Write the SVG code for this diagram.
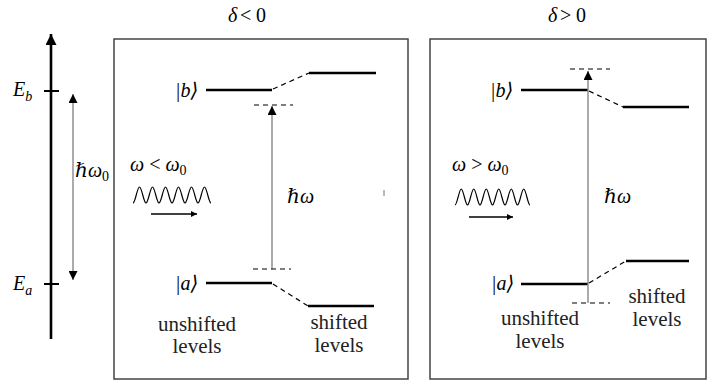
<svg xmlns="http://www.w3.org/2000/svg" width="715" height="382" viewBox="0 0 715 382">
<defs>
<style>
.box{fill:none;stroke:#444;stroke-width:1.5}
.lvl{stroke:#000;stroke-width:2.6;fill:none}
.dash{stroke:#000;stroke-width:1.2;stroke-dasharray:5,4;fill:none}
.ph{stroke:#888;stroke-width:1.4;fill:none}
.axis{stroke:#000;stroke-width:2.6;fill:none}
.tick{stroke:#000;stroke-width:2;fill:none}
.wave{stroke:#000;stroke-width:1.2;fill:none}
.sm{stroke:#000;stroke-width:1.3;fill:none}
text{font-family:"Liberation Serif","Times New Roman",Times,"Nimbus Roman","DejaVu Serif","Noto Serif",serif}
.mi{font-style:italic;font-size:20px;fill:#000}
.rm{font-size:21px;fill:#222}
.sub{font-size:14px}
.up{font-style:normal}
</style>
<marker id="ah" viewBox="0 0 10 10" refX="10" refY="5" markerWidth="9" markerHeight="9" markerUnits="userSpaceOnUse" orient="auto-start-reverse"><path d="M0,0 L10,5 L0,10 z" fill="#000"/></marker>
<marker id="ahBig" viewBox="0 0 10 10" refX="10" refY="5" markerWidth="11" markerHeight="11" markerUnits="userSpaceOnUse" orient="auto"><path d="M0,0 L10,5 L0,10 z" fill="#000"/></marker>
<marker id="ahSm" viewBox="0 0 10 10" refX="10" refY="5" markerWidth="8" markerHeight="6" markerUnits="userSpaceOnUse" orient="auto"><path d="M0,0 L10,5 L0,10 z" fill="#000"/></marker>
</defs>

<g id="energy-axis">
<line class="axis" x1="51" y1="339" x2="51" y2="34" marker-end="url(#ahBig)"/>
<line class="tick" x1="44" y1="91" x2="59" y2="91"/>
<line class="tick" x1="44" y1="284" x2="59" y2="284"/>
<text class="mi" x="13" y="96">E<tspan class="sub" dy="5">b</tspan></text>
<text class="mi" x="13" y="290">E<tspan class="sub" dy="5">a</tspan></text>
<text class="mi" x="75" y="177">ℏω<tspan class="sub up" dy="4">0</tspan></text>
</g>

<g id="panel-left">
<rect class="box" x="114" y="39" width="294" height="340"/>
<text class="mi" x="228" y="22">δ<tspan class="up" x="240">&lt;</tspan><tspan class="up" x="256">0</tspan></text>
<text class="mi" x="175" y="97">|b⟩</text>
<text class="mi" x="175" y="290">|a⟩</text>
<line class="lvl" x1="206" y1="90" x2="272" y2="90"/>
<line class="lvl" x1="309" y1="73" x2="376" y2="73"/>
<line class="lvl" x1="206" y1="283" x2="272" y2="283"/>
<line class="lvl" x1="308" y1="306" x2="374" y2="306"/>
<text class="mi" x="130" y="171">ω<tspan class="up" dx="5">&lt;</tspan><tspan dx="5">ω</tspan><tspan class="sub up" dy="4">0</tspan></text>
<path class="wave" d="M133,203 c2.3,0 4.2,-16 6.5,-16 s4.2,16 6.5,16 s4.2,-16 6.5,-16 s4.2,16 6.5,16 s4.2,-16 6.5,-16 s4.2,16 6.5,16 s4.2,-16 6.5,-16 s4.2,16 6.5,16 s4.2,-16 6.5,-16 s4.2,16 6.5,16 s4.2,-16 6.5,-16 s4.2,16 6.5,16"/>
<text class="mi" x="287" y="203">ℏω</text>
<line x1="384" y1="190" x2="384" y2="196" stroke="#777" stroke-width="1"/>
<text class="rm" x="197" y="331" text-anchor="middle">unshifted</text>
<text class="rm" x="197" y="353" text-anchor="middle">levels</text>
<text class="rm" x="339" y="329" text-anchor="middle">shifted</text>
<text class="rm" x="339" y="352" text-anchor="middle">levels</text>
</g>

<g id="panel-right">
<rect class="box" x="430" y="39" width="276" height="340"/>
<text class="mi" x="548" y="22">δ<tspan class="up" x="560">&gt;</tspan><tspan class="up" x="576">0</tspan></text>
<text class="mi" x="490" y="97">|b⟩</text>
<text class="mi" x="491" y="290">|a⟩</text>
<line class="lvl" x1="521" y1="90" x2="588" y2="90"/>
<line class="lvl" x1="623" y1="107" x2="689" y2="107"/>
<line class="lvl" x1="521" y1="284" x2="588" y2="284"/>
<line class="lvl" x1="626" y1="261" x2="689" y2="261"/>
<text class="mi" x="452" y="171">ω<tspan class="up" dx="5">&gt;</tspan><tspan dx="5">ω</tspan><tspan class="sub up" dy="4">0</tspan></text>
<path class="wave" d="M455,205 c2.2,0 4.1,-16 6.25,-16 s4.1,16 6.25,16 s4.1,-16 6.25,-16 s4.1,16 6.25,16 s4.1,-16 6.25,-16 s4.1,16 6.25,16 s4.1,-16 6.25,-16 s4.1,16 6.25,16 s4.1,-16 6.25,-16 s4.1,16 6.25,16 s4.1,-16 6.25,-16 s4.1,16 6.25,16"/>
<text class="mi" x="604" y="203">ℏω</text>
<text class="rm" x="540" y="325" text-anchor="middle">unshifted</text>
<text class="rm" x="540" y="348" text-anchor="middle">levels</text>
<text class="rm" x="657" y="303" text-anchor="middle">shifted</text>
<text class="rm" x="657" y="326" text-anchor="middle">levels</text>
</g>

<g id="connectors">
<line class="ph" x1="73" y1="94" x2="73" y2="280" marker-start="url(#ah)" marker-end="url(#ah)"/>
<line class="ph" x1="272" y1="269" x2="272" y2="106" marker-end="url(#ah)"/>
<line class="dash" x1="254" y1="105" x2="293" y2="105"/>
<line class="dash" x1="253" y1="269" x2="291" y2="269"/>
<line class="dash" x1="273" y1="89" x2="309" y2="73"/>
<line class="dash" x1="273" y1="284" x2="308" y2="306"/>
<line class="sm" x1="151" y1="214" x2="197" y2="214" marker-end="url(#ahSm)"/>
<line class="ph" x1="588" y1="303" x2="588" y2="71" marker-end="url(#ah)"/>
<line class="dash" x1="570" y1="69" x2="610" y2="69"/>
<line class="dash" x1="572" y1="303" x2="610" y2="303"/>
<line class="dash" x1="589" y1="91" x2="623" y2="107"/>
<line class="dash" x1="589" y1="283" x2="626" y2="261"/>
<line class="sm" x1="469" y1="217" x2="513" y2="217" marker-end="url(#ahSm)"/>
</g>
</svg>
